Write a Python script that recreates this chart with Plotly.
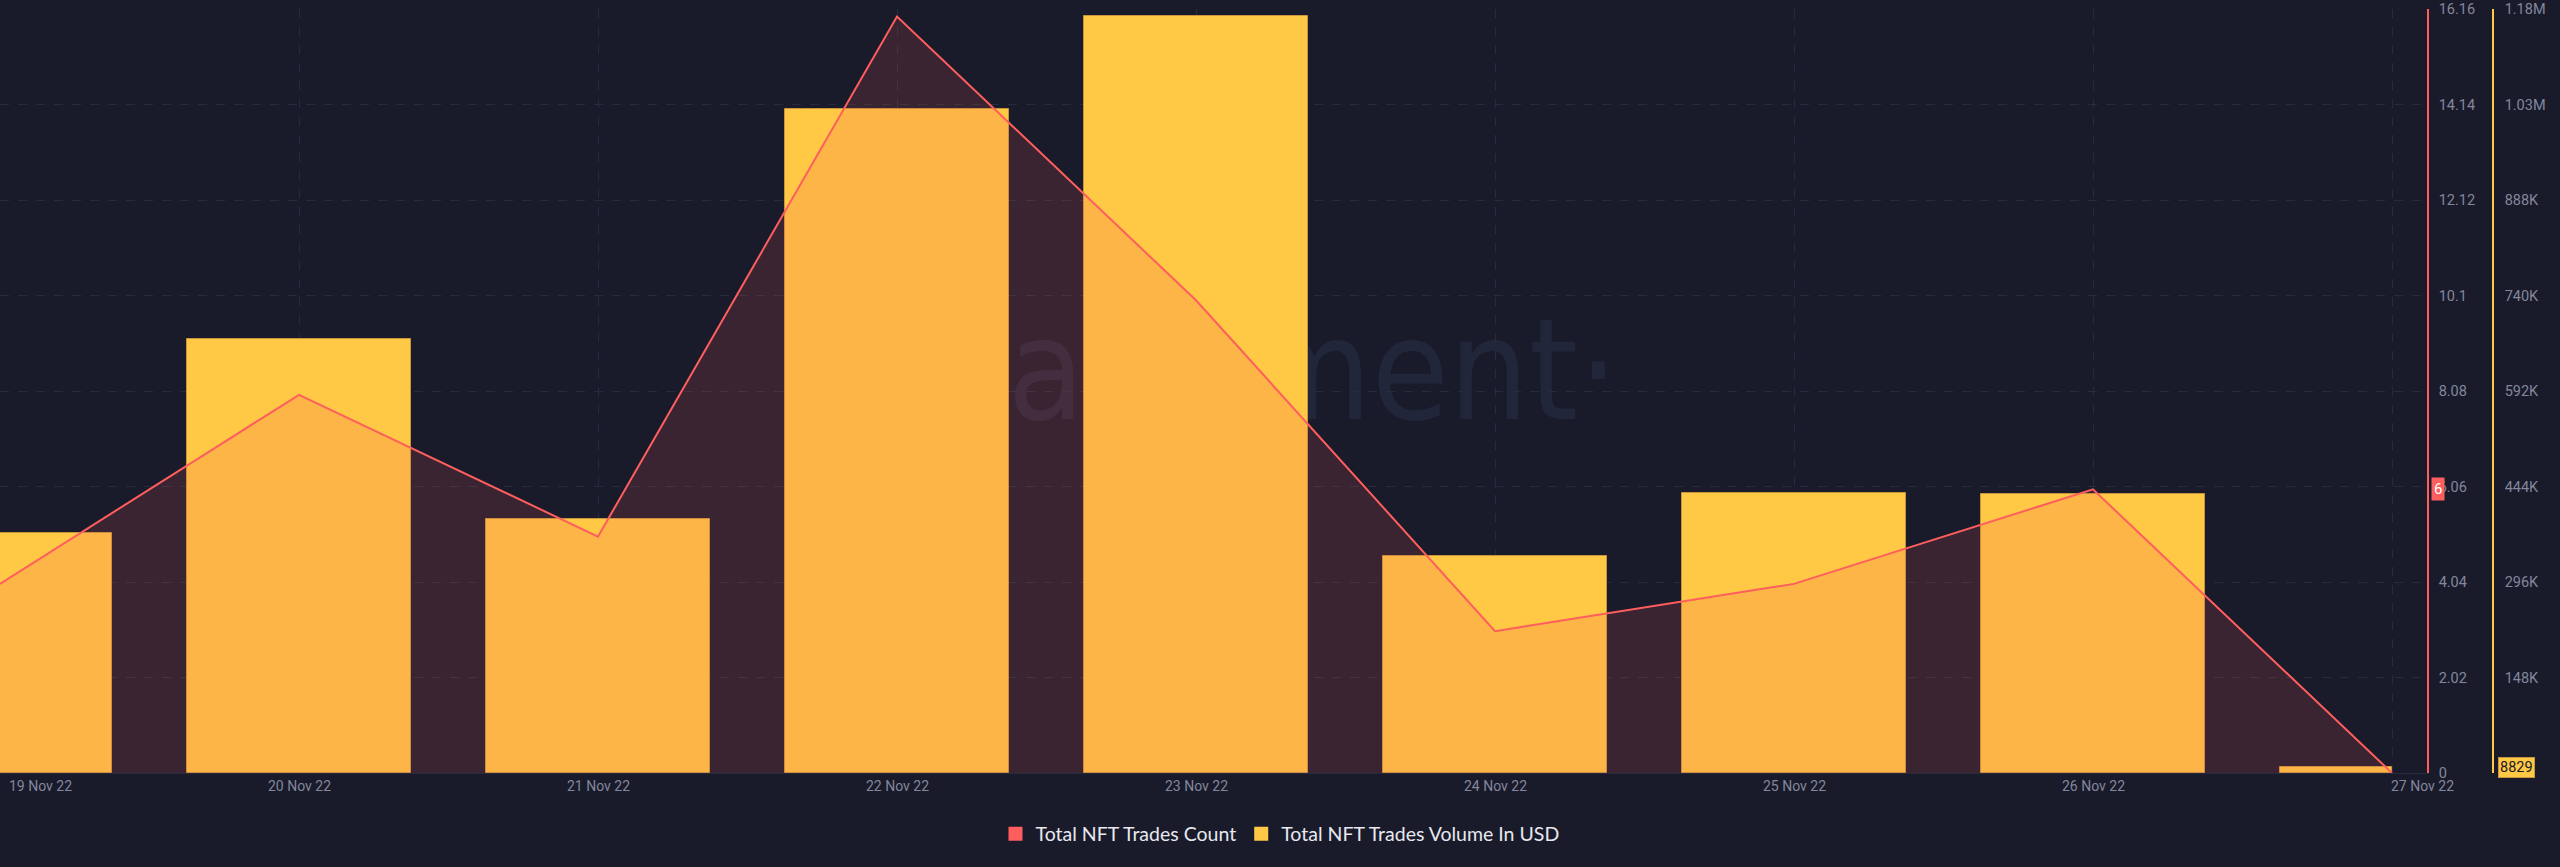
import plotly.graph_objects as go
import pandas as pd

# ---------------- data ----------------
dates = ["2022-11-19", "2022-11-20", "2022-11-21", "2022-11-22", "2022-11-23",
         "2022-11-24", "2022-11-25", "2022-11-26", "2022-11-27"]
date_labels = ["19 Nov 22", "20 Nov 22", "21 Nov 22", "22 Nov 22", "23 Nov 22",
               "24 Nov 22", "25 Nov 22", "26 Nov 22", "27 Nov 22"]
trades_count = [4, 8, 5, 16, 10, 3, 4, 6, 0]
trades_volume_usd = [372500, 672000, 393500, 1029000, 1172500, 337000, 434000, 432000, 8829]

count_tickvals = [0, 2.02, 4.04, 6.06, 8.08, 10.1, 12.12, 14.14, 16.16]
count_ticktext = ["0", "2.02", "4.04", "6.06", "8.08", "10.1", "12.12", "14.14", "16.16"]
volume_tickvals = [0, 148000, 296000, 444000, 592000, 740000, 888000, 1036000, 1184000]
volume_ticktext = ["0", "148K", "296K", "444K", "592K", "740K", "888K", "1.03M", "1.18M"]

count_name = "Total NFT Trades Count"
volume_name = "Total NFT Trades Volume In USD"
count_badge = 6
volume_badge = 8829
watermark = "santiment·"

# ---------------- style ----------------
BG = "#191b2b"
RED = "#ff5e5e"
YELLOW = "#ffc845"
GRID = "#272b3c"
TICK = "#83879b"
DAY = 86400000

W, H = 2560, 867
plot_right = 2427
axis2_x = 2493

fig = go.Figure()

n = len(dates)
widths = [0.75 * DAY] * (n - 1) + [0.375 * DAY]
offsets = [-0.375 * DAY] * n

fig.add_trace(go.Bar(
    x=dates, y=trades_volume_usd, name=volume_name, yaxis="y",
    marker=dict(color=YELLOW, line=dict(color="#c9953c", width=1)),
    width=widths, offset=offsets, showlegend=False, hoverinfo="skip",
))
fig.add_trace(go.Scatter(
    x=dates, y=trades_count, name=count_name, yaxis="y2", mode="lines",
    line=dict(color=RED, width=2), fill="tozeroy",
    fillcolor="rgba(243,90,87,0.16)", showlegend=False, hoverinfo="skip",
))
# legend entries
fig.add_trace(go.Scatter(x=[None], y=[None], mode="markers", name=count_name,
                         marker=dict(symbol="square", size=14, color=RED)))
fig.add_trace(go.Scatter(x=[None], y=[None], mode="markers", name=volume_name,
                         marker=dict(symbol="square", size=14, color=YELLOW)))

x0 = pd.Timestamp(dates[0])
x1 = pd.Timestamp(dates[-1]) + pd.Timedelta(days=(plot_right / 299.0) - 8)

top, bottom = 9, 94
ph = H - top - bottom

fig.update_layout(
    width=W, height=H,
    paper_bgcolor=BG, plot_bgcolor=BG,
    margin=dict(l=0, r=0, t=top, b=bottom, autoexpand=False),
    font=dict(family="Roboto, Lato, sans-serif", color=TICK, size=14),
    bargap=0,
    xaxis=dict(
        type="date", domain=[0, plot_right / W], range=[x0, x1],
        tickvals=dates, showticklabels=False, ticks="", automargin=False,
        showgrid=True, gridcolor=GRID, griddash="9px,9px", gridwidth=1,
        showline=True, linecolor="#262a3a", linewidth=1, zeroline=False,
    ),
    yaxis=dict(
        range=[0, 1184000], tickvals=volume_tickvals, ticktext=volume_ticktext,
        side="right", anchor="free", position=axis2_x / W, automargin=False,
        showline=True, linecolor=YELLOW, linewidth=1.5,
        showgrid=True, gridcolor=GRID, griddash="9px,9px", gridwidth=1,
        zeroline=False, ticks="", ticklabelstandoff=8,
        tickfont=dict(color=TICK, size=14.5),
    ),
    yaxis2=dict(
        range=[0, 16.16], tickvals=count_tickvals, ticktext=count_ticktext,
        overlaying="y", side="right", anchor="x", automargin=False,
        showline=True, linecolor=RED, linewidth=1.5,
        showgrid=False, zeroline=False, ticks="", ticklabelstandoff=7,
        tickfont=dict(color=TICK, size=14.5),
    ),
    legend=dict(orientation="h", x=0.5, xanchor="center",
                y=-(834 - (H - bottom)) / ph, yanchor="middle",
                font=dict(family="Lato, Open Sans, sans-serif", size=19.5, color="#e8e8ee"),
                bgcolor="rgba(0,0,0,0)", itemclick=False),
    shapes=[dict(
        type="rect", xref="paper", yref="paper", x0=0.3, x1=0.7,
        y0=0.32, y1=0.76, layer="below", line=dict(width=0),
        fillcolor="rgba(0,0,0,0)",
        label=dict(text=watermark, textposition="middle center",
                   font=dict(family="Liberation Sans Narrow, DejaVu Sans Condensed, Roboto, sans-serif",
                             size=140, color="#22263a")),
    )],
)

annotations = []
for i, (d, lab) in enumerate(zip(dates, date_labels)):
    if i == 0:
        xa, xs = "left", 7
    elif i == n - 1:
        xa, xs = "left", -3
    else:
        xa, xs = "center", 0
    annotations.append(dict(
        x=d, xref="x", y=-(786 - (H - bottom)) / ph, yref="paper",
        text=lab, showarrow=False, xanchor=xa, yanchor="middle", xshift=xs,
        font=dict(color=TICK, size=14, family="Roboto, sans-serif"),
    ))
annotations.append(dict(
    x=2438 / W, xref="paper", y=count_badge, yref="y2", text=str(count_badge),
    showarrow=False, xanchor="center", yanchor="middle", bgcolor=RED,
    font=dict(color="#ffffff", size=15, family="Roboto, sans-serif"), borderpad=2,
))
annotations.append(dict(
    x=2516 / W, xref="paper", y=volume_badge, yref="y", text=str(volume_badge),
    showarrow=False, xanchor="center", yanchor="middle", bgcolor=YELLOW,
    bordercolor="#c9953c", borderwidth=1,
    font=dict(color="#1a1b2b", size=14.5, family="Roboto, sans-serif"), borderpad=1,
))
fig.update_layout(annotations=annotations)

fig.write_html(
    "out.html",
    config={"displayModeBar": False},
    post_script="document.body.style.margin='0';document.body.style.background='%s';" % BG,
)
